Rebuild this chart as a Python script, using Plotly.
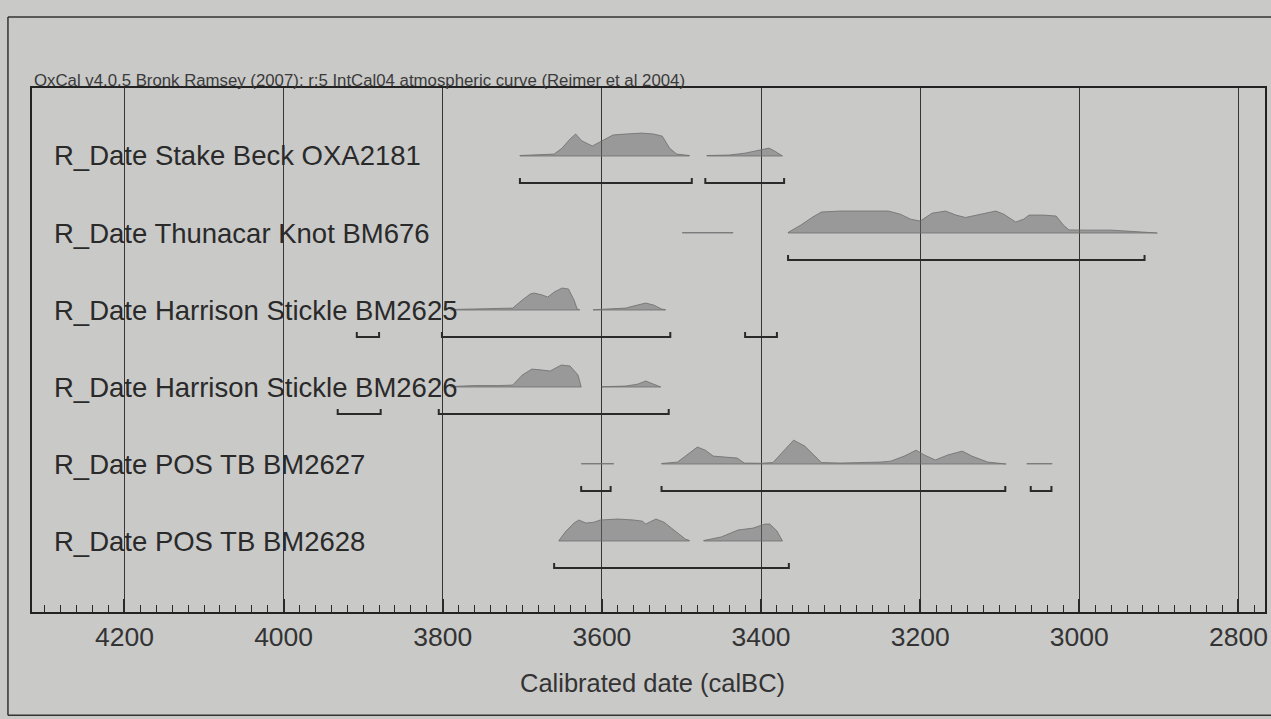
import plotly.graph_objects as go

# Sample labels, top to bottom
labels = [
    "R_Date Stake Beck OXA2181",
    "R_Date Thunacar Knot BM676",
    "R_Date Harrison Stickle BM2625",
    "R_Date Harrison Stickle BM2626",
    "R_Date POS TB BM2627",
    "R_Date POS TB BM2628",
]

# Calibrated probability distributions (years calBC, relative probability),
# one list of segments per sample
stake_beck_years = [
    [3703, 3680, 3660, 3650, 3640, 3633, 3625, 3612, 3600, 3586, 3570, 3550, 3535, 3524, 3515, 3506, 3490],
    [3468, 3440, 3420, 3405, 3395, 3390, 3383, 3375, 3373],
]
stake_beck_prob = [
    [0.02, 0.04, 0.08, 0.33, 0.71, 0.92, 0.63, 0.42, 0.63, 0.88, 0.92, 0.96, 0.92, 0.83, 0.33, 0.08, 0.02],
    [0.02, 0.04, 0.12, 0.21, 0.29, 0.33, 0.21, 0.04, 0.02],
]

thunacar_years = [
    [3499, 3435],
    [3366, 3350, 3335, 3324, 3300, 3270, 3240, 3225, 3212, 3200, 3185, 3168, 3155, 3143, 3125, 3105,
     3095, 3080, 3070, 3063, 3045, 3029, 3020, 3013, 2990, 2960, 2940, 2921, 2902],
]
thunacar_prob = [
    [0.01, 0.01],
    [0.02, 0.33, 0.67, 0.88, 0.92, 0.92, 0.92, 0.79, 0.58, 0.5, 0.83, 0.92, 0.75, 0.65, 0.79, 0.92,
     0.79, 0.46, 0.58, 0.75, 0.75, 0.71, 0.33, 0.13, 0.12, 0.12, 0.08, 0.04, 0.01],
]

bm2625_years = [
    [3790, 3760, 3730, 3712, 3700, 3690, 3685, 3675, 3668, 3660, 3650, 3642, 3635, 3631, 3628],
    [3611, 3590, 3570, 3555, 3545, 3535, 3525, 3520],
]
bm2625_prob = [
    [0.02, 0.04, 0.04, 0.08, 0.42, 0.67, 0.71, 0.63, 0.54, 0.75, 0.92, 0.88, 0.42, 0.04, 0.01],
    [0.01, 0.04, 0.08, 0.21, 0.29, 0.21, 0.04, 0.01],
]

bm2626_years = [
    [3790, 3760, 3730, 3712, 3700, 3688, 3675, 3665, 3651, 3640, 3630, 3626],
    [3600, 3570, 3555, 3545, 3535, 3526],
]
bm2626_prob = [
    [0.02, 0.06, 0.06, 0.08, 0.5, 0.75, 0.71, 0.67, 0.92, 0.88, 0.5, 0.02],
    [0.01, 0.04, 0.12, 0.25, 0.12, 0.01],
]

bm2627_years = [
    [3626, 3585],
    [3525, 3505, 3495, 3480, 3470, 3460, 3445, 3430, 3421, 3400, 3385, 3375, 3359, 3345, 3330, 3324,
     3300, 3270, 3250, 3237, 3220, 3205, 3195, 3181, 3165, 3147, 3135, 3115, 3092],
    [3066, 3034],
]
bm2627_prob = [
    [0.01, 0.01],
    [0.02, 0.08, 0.33, 0.71, 0.58, 0.33, 0.29, 0.25, 0.04, 0.03, 0.06, 0.42, 1.0, 0.75, 0.25, 0.06,
     0.04, 0.06, 0.08, 0.12, 0.33, 0.58, 0.38, 0.17, 0.38, 0.54, 0.33, 0.08, 0.02],
    [0.01, 0.01],
]

bm2628_years = [
    [3654, 3645, 3635, 3629, 3620, 3610, 3602, 3580, 3560, 3549, 3545, 3532, 3522, 3507, 3495, 3490],
    [3472, 3450, 3429, 3410, 3395, 3389, 3380, 3373],
]
bm2628_prob = [
    [0.02, 0.42, 0.75, 0.88, 0.75, 0.79, 0.88, 0.92, 0.88, 0.83, 0.71, 0.92, 0.79, 0.38, 0.08, 0.02],
    [0.02, 0.17, 0.46, 0.54, 0.71, 0.71, 0.42, 0.02],
]

# 95.4% probability ranges (from, to) in calBC
stake_beck_ranges = [(3703, 3487), (3470, 3371)]
thunacar_ranges = [(3366, 2918)]
bm2625_ranges = [(3908, 3880), (3801, 3514), (3420, 3380)]
bm2626_ranges = [(3932, 3878), (3805, 3516)]
bm2627_ranges = [(3626, 3589), (3525, 3093), (3061, 3035)]
bm2628_ranges = [(3660, 3365)]

dist_years = [stake_beck_years, thunacar_years, bm2625_years, bm2626_years, bm2627_years, bm2628_years]
dist_prob = [stake_beck_prob, thunacar_prob, bm2625_prob, bm2626_prob, bm2627_prob, bm2628_prob]
ranges = [stake_beck_ranges, thunacar_ranges, bm2625_ranges, bm2626_ranges, bm2627_ranges, bm2628_ranges]

major_ticks = [4200, 4000, 3800, 3600, 3400, 3200, 3000, 2800]

BG = "#c9c9c8"
INK = "#2a2a2a"
FILL = "rgba(105,105,105,0.5)"
EDGE = "rgba(110,110,110,0.8)"
PEAK = 0.31      # row units for a relative probability of 1
BRACKET = 0.35   # drop of the range bar below the baseline
HOOK = 0.065     # height of the bracket ends
FONT = "Liberation Sans, Arial"

fig = go.Figure()
n = len(labels)
for i, label in enumerate(labels):
    base = n - i
    for yrs, pr in zip(dist_years[i], dist_prob[i]):
        xs = list(yrs) + [yrs[-1], yrs[0], yrs[0]]
        ys = [base + p * PEAK for p in pr] + [base, base, base + pr[0] * PEAK]
        fig.add_trace(go.Scatter(
            x=xs, y=ys, mode="lines", fill="toself", fillcolor=FILL,
            line=dict(color=EDGE, width=1), hoverinfo="skip", showlegend=False))
    yb = base - BRACKET
    for a, b in ranges[i]:
        fig.add_trace(go.Scatter(
            x=[a, a, b, b], y=[yb + HOOK, yb, yb, yb + HOOK], mode="lines",
            line=dict(color=INK, width=2), hoverinfo="skip", showlegend=False))
    fig.add_annotation(
        x=0.0165, xref="paper", y=base, yref="y", text=label, showarrow=False,
        xanchor="left", yanchor="middle",
        font=dict(family=FONT, size=27.5, color=INK))

fig.add_annotation(
    x=0.0, xref="paper", y=1.0, yref="paper", yshift=-4,
    text="OxCal v4.0.5 Bronk Ramsey (2007); r:5 IntCal04 atmospheric curve (Reimer et al 2004)",
    showarrow=False, xanchor="left", yanchor="bottom",
    font=dict(family=FONT, size=16.8, color="#3a3a3a"))

fig.add_annotation(
    x=0.503, xref="paper", y=-0.1355, yref="paper", text="Calibrated date (calBC)",
    showarrow=False, xanchor="center", yanchor="middle",
    font=dict(family=FONT, size=25.5, color="#333333"))

# page border
for x0, y0, x1, y1 in [(-0.0195, -0.197, -0.0195, 1.1355),
                       (-0.0195, 1.1355, 1.05, 1.1355),
                       (-0.0195, -0.197, 1.05, -0.197)]:
    fig.add_shape(type="line", xref="paper", yref="paper", x0=x0, y0=y0, x1=x1, y1=y1,
                  line=dict(color="#333333", width=1.5))

fig.update_xaxes(
    range=[4316.2, 2766.6], tickvals=major_ticks, ticktext=[str(t) for t in major_ticks],
    ticklabeloverflow="allow", automargin=False,
    ticks="inside", ticklen=13, tickwidth=1.5, tickcolor=INK,
    minor=dict(dtick=20, tick0=2800, ticks="inside", ticklen=7, tickwidth=1.2,
               tickcolor=INK, showgrid=False),
    showgrid=True, gridcolor="#353535", gridwidth=1.2,
    showline=True, linecolor="#222222", linewidth=2, mirror=True, zeroline=False,
    tickfont=dict(family=FONT, size=26.5, color="#333333"))
fig.update_yaxes(
    range=[0.078, 6.883], showticklabels=False, ticks="", showgrid=False, zeroline=False,
    showline=True, linecolor="#222222", linewidth=2, mirror=True, automargin=False)

fig.update_layout(
    width=1271, height=719, autosize=False,
    margin=dict(l=32, r=6, t=88, b=107),
    paper_bgcolor=BG, plot_bgcolor=BG,
    font=dict(family=FONT))

fig.write_html("out.html")
